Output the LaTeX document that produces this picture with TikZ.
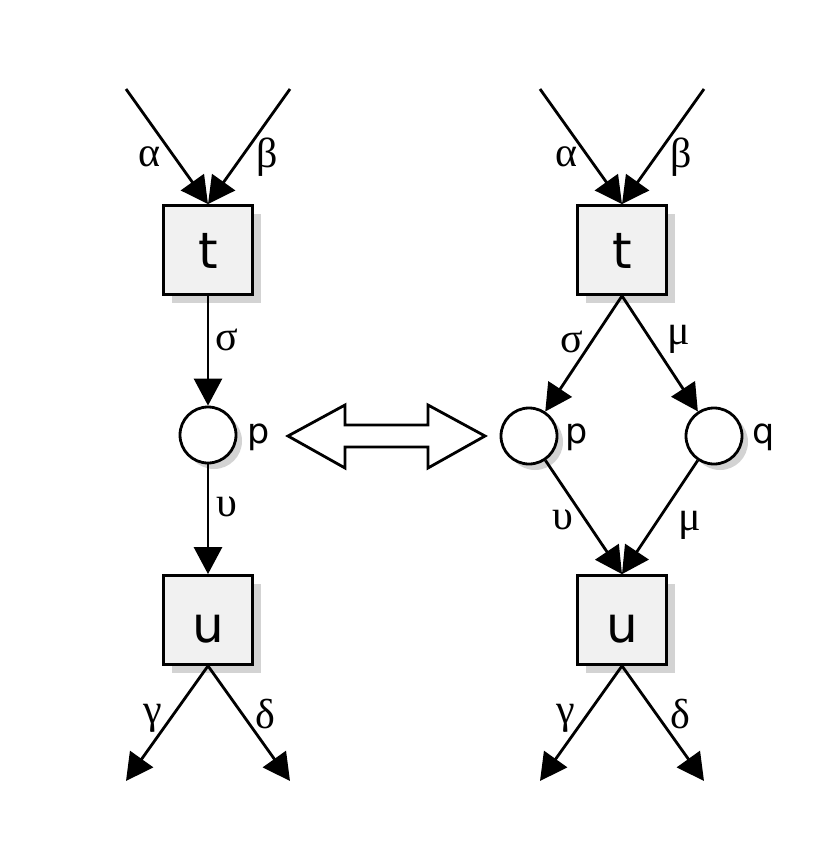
\documentclass[tikz,border=0pt]{standalone}
\usepackage{fontspec}
\setmainfont{DejaVu Sans}
\newfontfamily\greekfont{Liberation Serif}
\usetikzlibrary{arrows.meta,shadows}
\definecolor{boxfill}{HTML}{F1F1F1}
\definecolor{shadowgray}{HTML}{D3D3D3}
\tikzset{
  trans/.style={draw,line width=2.8pt,fill=boxfill,minimum size=89pt,inner sep=0pt,
    drop shadow={shadow xshift=8pt,shadow yshift=-8pt,fill=shadowgray,opacity=1}},
  tlab/.style={font=\fontsize{50}{54}\selectfont,inner sep=0pt,anchor=base},
  place/.style={draw,circle,line width=2.8pt,fill=white,minimum size=56pt,inner sep=0pt,
    drop shadow={shadow xshift=6pt,shadow yshift=-6pt,fill=shadowgray,opacity=1}},
  arc/.style={line width=2.8pt,-{Triangle[length=27pt,width=28pt]}},
  glab/.style={font=\greekfont\fontsize{42}{46}\selectfont,inner sep=0pt},
  plab/.style={font=\fontsize{35}{38}\selectfont,inner sep=0pt},
  dbl/.style={draw,line width=2.8pt,fill=white,line join=miter}
}
\begin{document}
\begin{tikzpicture}[x=1pt,y=-1pt]
\useasboundingbox (0,0) rectangle (828,868);
% left net
\node[trans] (t1) at (208,250) {};
\node[tlab] (tt1) at (208,268) {t};
\node[place] (p1) at (208,435) {};
\node[trans] (u1) at (208,620) {};
\node[tlab] (tu1) at (208,642) {u};
\coordinate (a1) at (126,89);
\coordinate (b1) at (290,89);
\coordinate (g1) at (126,781);
\coordinate (d1) at (290,781);
\draw[arc] (a1) -- (t1.north);
\draw[arc] (b1) -- (t1.north);
\draw[arc] (t1.south) -- (p1);
\draw[arc] (p1) -- (u1.north);
\draw[arc] (u1.south) -- (g1);
\draw[arc] (u1.south) -- (d1);
\node[glab] (la1) at (150,157) {α};
\node[glab] (lb1) at (267,157) {β};
\node[glab] (ls1) at (227,340) {σ};
\node[glab] (lu1) at (227,507) {υ};
\node[glab] (lg1) at (153,718) {γ};
\node[glab] (ld1) at (265,714) {δ};
\node[plab] (lp1) at (259,437) {p};
% double arrow
\draw[dbl] (288,436) -- (345,405) -- (345,425) -- (428,425) -- (428,405) -- (485,436)
  -- (428,468) -- (428,447) -- (345,447) -- (345,468) -- cycle;
% right net
\node[trans] (t2) at (622,250) {};
\node[tlab] (tt2) at (622,268) {t};
\node[place] (p2) at (529,436) {};
\node[place] (q2) at (714,436) {};
\node[trans] (u2) at (622,620) {};
\node[tlab] (tu2) at (622,642) {u};
\coordinate (a2) at (540,89);
\coordinate (b2) at (704,89);
\coordinate (g2) at (540,781);
\coordinate (d2) at (704,781);
\draw[arc] (a2) -- (t2.north);
\draw[arc] (b2) -- (t2.north);
\draw[arc] (t2.south) -- (p2);
\draw[arc] (t2.south) -- (q2);
\draw[arc] (p2) -- (u2.north);
\draw[arc] (q2) -- (u2.north);
\draw[arc] (u2.south) -- (g2);
\draw[arc] (u2.south) -- (d2);
\node[glab] (la2) at (566,157) {α};
\node[glab] (lb2) at (681,157) {β};
\node[glab] (ls2) at (572,342) {σ};
\node[glab] (lm2) at (679,339) {μ};
\node[glab] (lu2) at (563,520) {υ};
\node[glab] (lm3) at (690,525) {μ};
\node[glab] (lg2) at (566,718) {γ};
\node[glab] (ld2) at (680,714) {δ};
\node[plab] (lp2) at (577,437) {p};
\node[plab] (lq2) at (764,437) {q};
\end{tikzpicture}
\end{document}
